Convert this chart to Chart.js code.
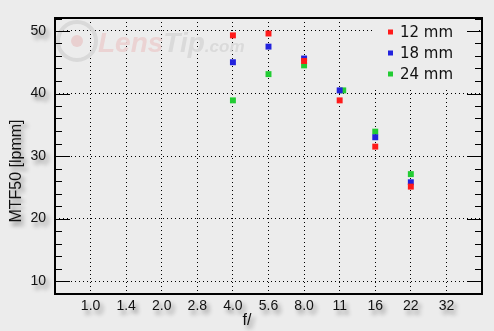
<!DOCTYPE html>
<html>
<head>
<meta charset="utf-8">
<script src="https://cdn.jsdelivr.net/npm/chart.js@4/dist/chart.umd.min.js"></script>
<style>
  html, body { margin: 0; padding: 0; background: #ececec; }
  #wrap { width: 494px; height: 331px; }
</style>
</head>
<body>
<div id="wrap"><canvas id="mtfChart"></canvas></div>
<script>
/* =========================
   DATA
========================= */

const apertures = ["1.0", "1.4", "2.0", "2.8", "4.0", "5.6", "8.0", "11", "16", "22", "32"];
const yTickValues = [10, 20, 30, 40, 50];

// index into apertures for each measured point
const stops12 = [4, 5, 6, 7, 8, 9];
const stops18 = [4, 5, 6, 7, 8, 9];
const stops24 = [4, 5, 6, 7.1, 8, 9];

const mtf12 = [49.3, 49.6, 45.2, 38.9, 31.5, 25.1];
const mtf18 = [45.0, 47.5, 45.6, 40.5, 33.0, 25.8];
const mtf24 = [38.9, 43.1, 44.5, 40.5, 33.9, 27.1];

const seriesNames = ["12 mm", "18 mm", "24 mm"];
const seriesColors = ["#ff1a1a", "#2222dd", "#22cc33"];

function points(xs, ys){
    return xs.map((x, i) => ({ x: x, y: ys[i] }));
}

/* =========================
   DECORATION PLUGIN
========================= */

const lensTipDecor = {

    id: "lensTipDecor",

    beforeDatasetsDraw(chart){

        const ctx = chart.ctx;
        const area = chart.chartArea;
        const y = chart.scales.y;

        ctx.save();

        // watermark
        ctx.globalAlpha = 1;
        ctx.strokeStyle = "#d9d9d9";
        ctx.lineWidth = 4;
        ctx.beginPath();
        ctx.arc(77, 41, 19, 0, Math.PI * 2);
        ctx.stroke();
        ctx.fillStyle = "#e9d0d0";
        ctx.beginPath();
        ctx.arc(77, 41, 6, 0, Math.PI * 2);
        ctx.fill();

        ctx.font = "italic bold 28px 'Liberation Sans'";
        ctx.textBaseline = "alphabetic";
        ctx.textAlign = "left";
        ctx.fillStyle = "#ebd3d3";
        ctx.fillText("Lens", 98, 52);
        const lensW = ctx.measureText("Lens").width;
        ctx.fillStyle = "#dadada";
        ctx.fillText("Tip", 98 + lensW, 52);
        const tipW = ctx.measureText("Tip").width;
        ctx.font = "italic bold 17px 'Liberation Sans'";
        ctx.fillText(".com", 98 + lensW + tipW, 52);

        // legend box hides grid
        ctx.fillStyle = "#ececec";
        ctx.fillRect(372, area.top + 1, 104, 70);

        // minor + major ticks on left and right
        ctx.strokeStyle = "#000";
        ctx.lineWidth = 1;
        for(let v = 10; v <= 52; v += 2){
            const py = Math.round(y.getPixelForValue(v)) + 0.5;
            const len = v % 10 === 0 ? 15 : 7;
            ctx.beginPath();
            ctx.moveTo(area.left, py);
            ctx.lineTo(area.left + len, py);
            ctx.moveTo(area.right, py);
            ctx.lineTo(area.right - len, py);
            ctx.stroke();
        }

        // frame
        ctx.lineWidth = 2;
        ctx.strokeRect(area.left, area.top, area.right - area.left, area.bottom - area.top);

        ctx.restore();

    },

    afterDraw(chart){

        const ctx = chart.ctx;
        const x = chart.scales.x;
        const y = chart.scales.y;
        const area = chart.chartArea;

        ctx.save();

        // tick labels with soft shadow
        ctx.shadowColor = "rgba(0,0,0,0.45)";
        ctx.shadowBlur = 4;
        ctx.shadowOffsetX = 3;
        ctx.shadowOffsetY = 4;
        ctx.fillStyle = "#111";
        ctx.font = "14px 'Liberation Sans'";

        ctx.textAlign = "right";
        ctx.textBaseline = "middle";
        yTickValues.forEach(v => {
            ctx.fillText(String(v), 46, y.getPixelForValue(v));
        });

        ctx.textAlign = "center";
        apertures.forEach((label, i) => {
            ctx.fillText(label, x.getPixelForValue(i), area.bottom + 12);
        });

        ctx.font = "16px 'Liberation Sans'";
        ctx.fillText("f/", 247, 321);

        ctx.translate(17, 171);
        ctx.rotate(-Math.PI / 2);
        ctx.fillText("MTF50 [lpmm]", 0, 0);
        ctx.setTransform(1, 0, 0, 1, 0, 0);

        // legend
        ctx.shadowColor = "transparent";
        ctx.textAlign = "left";
        ctx.font = "15px 'DejaVu Sans'";
        seriesNames.forEach((name, i) => {
            const cy = 32 + i * 21;
            ctx.fillStyle = seriesColors[i];
            ctx.fillRect(388, cy - 2.5, 5, 5);
            ctx.fillStyle = "#111";
            ctx.fillText(name, 400, cy + 1);
        });

        ctx.restore();

    }

};

/* =========================
   CHART
========================= */

document.addEventListener("DOMContentLoaded", () => {

    const datasets = [
        points(stops12, mtf12),
        points(stops18, mtf18),
        points(stops24, mtf24)
    ].map((data, i) => ({
        label: seriesNames[i],
        data: data,
        backgroundColor: seriesColors[i],
        borderWidth: 0,
        pointStyle: "rect",
        pointRadius: 4.2,
        pointHoverRadius: 4.2
    }));

    new Chart(document.getElementById("mtfChart"), {

        type: "scatter",

        data: { datasets: datasets },

        plugins: [lensTipDecor],

        options: {

            responsive: true,
            maintainAspectRatio: false,
            animation: false,
            devicePixelRatio: 1,

            layout: {
                padding: { top: 18, right: 12, left: 0, bottom: 0 }
            },

            plugins: {
                legend: { display: false },
                tooltip: { enabled: false }
            },

            scales: {

                x: {
                    type: "linear",
                    min: -1,
                    max: 11,
                    afterFit: scale => { scale.height = 37; },
                    afterBuildTicks: scale => {
                        scale.ticks = apertures.map((a, i) => ({ value: i }));
                    },
                    ticks: { display: false },
                    grid: { color: "#000", lineWidth: 1, drawTicks: false },
                    border: { display: false, dash: [1, 3] }
                },

                y: {
                    min: 7.92,
                    max: 52.08,
                    afterFit: scale => { scale.width = 55; },
                    afterBuildTicks: scale => {
                        scale.ticks = yTickValues.map(v => ({ value: v }));
                    },
                    ticks: { display: false },
                    grid: { color: "#000", lineWidth: 1, drawTicks: false },
                    border: { display: false, dash: [1, 3] }
                }

            }

        }

    });

});
</script>
</body>
</html>
